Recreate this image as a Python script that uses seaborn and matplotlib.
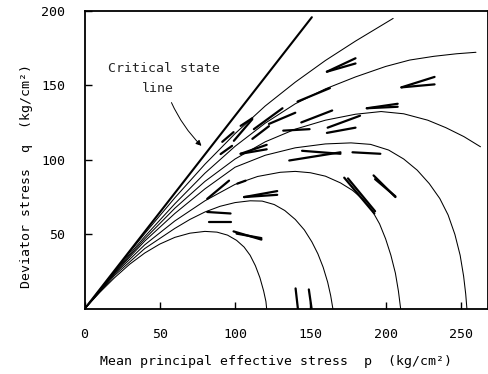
import matplotlib
matplotlib.use("Agg")
import matplotlib.pyplot as plt
import pandas as pd
import seaborn as sns

# ---- data (p, q in kg/cm2) ----
csl_p = [0, 151]
csl_q = [0, 195.5]

b_p = [0, 20, 40, 60, 80, 100, 120, 140, 160, 180, 205]
b_q = [0, 25.5, 50.5, 74.5, 97, 117.5, 136, 152, 166.5, 179.5, 194.7]

c_p = [0, 20, 40, 60, 80, 100, 120, 140, 160, 180, 200, 216, 232, 247, 260]
c_q = [0, 25, 48.5, 70.5, 91, 109, 124.5, 137.5, 147.5, 155.5, 162.5, 166.8, 169.3, 171, 172]

d_p = [0, 20, 40, 60, 80, 100, 120, 140, 160, 180, 197, 212, 228, 240, 252, 263]
d_q = [0, 24.5, 47, 67.5, 85.5, 100.5, 112, 120.5, 126.5, 130.5, 132.3, 130.8, 126.5, 121.5, 115.5, 108.7]

f_p = [0, 20, 40, 60, 80, 100, 120, 140, 160, 177, 190, 202, 212, 221, 229, 236,
       241.5, 246, 249.5, 251.8, 253.2, 254]
f_q = [0, 24, 45.5, 64, 80.5, 95, 103, 108, 110.6, 111.3, 110.3, 106.5, 100.5, 93, 84, 74,
       63, 50, 36, 22, 10, 0]

e_p = [0, 20, 40, 60, 80, 100, 115, 130, 140, 150, 160, 170, 178, 185, 191, 196,
       200, 203.5, 206.5, 208.5, 209.5, 210]
e_q = [0, 23.5, 43, 59, 72.5, 83.5, 88.8, 91.6, 92.2, 91.3, 89, 84.5, 79.5, 73.5, 66, 57,
       47, 36, 24, 12, 4, 0]

g_p = [0, 20, 40, 60, 70, 80, 90, 100, 110, 118, 126, 133, 140, 146, 151, 155,
       158.5, 161.5, 163.5, 165]
g_q = [0, 22.5, 40.5, 54, 60, 65, 68.8, 71.3, 72.5, 72.3, 70, 66, 60, 53, 45, 37,
       28, 18, 9, 0]

h_p = [0, 10, 20, 30, 40, 50, 60, 70, 80, 88, 95, 101, 106, 110, 113.5, 116.5,
       119, 120.5, 121]
h_q = [0, 11, 21, 30, 37.5, 43.5, 48, 50.8, 52, 51.5, 49.5, 46, 41.5, 36, 29, 21,
       12, 5, 0]

# short thick strokes (test data): start p, start q, end p, end q
stroke_p0 = [161, 161, 210.5, 210.5, 141.5, 187.5, 187.5, 112.5, 122.5, 111.5,
             144, 132, 161.5, 161, 103.7, 103.7, 103.7, 136, 144.5, 178,
             172.5, 175, 192, 193, 106, 106, 99, 101, 81.5, 82.5,
             81.5, 101.5, 140.2, 149, 90.4, 99.2, 91.5]
stroke_q0 = [159, 159, 148.5, 148.5, 139, 134.5, 134.5, 120.5, 124, 114,
             125, 119.5, 121.5, 118, 122.7, 104, 104, 99.5, 106, 105,
             88, 87.5, 89.5, 87, 75, 75, 52, 50.5, 65, 58.2,
             73.8, 84, 13.8, 13.1, 103.8, 112.7, 112]
stroke_p1 = [180, 180, 232.5, 232.5, 163, 208, 208, 131.5, 140, 122.5,
             164.5, 149.5, 183, 180, 111.4, 121, 121, 170, 170, 196.5,
             192.5, 193, 206.5, 206.5, 128, 128, 117.5, 117.5, 97, 97,
             96, 107, 141.7, 150.8, 98, 111.4, 99]
stroke_q1 = [168, 164.5, 155.5, 150.5, 148, 137.5, 135.5, 134.5, 131.5, 122.5,
             133, 120.5, 129.5, 121.5, 127.8, 110, 107, 105, 104, 104,
             64, 65.5, 75, 75.5, 79, 76.5, 46.5, 47.5, 64, 58.2,
             86, 86, 0.5, 0.5, 109.3, 127.1, 118.5]

x_ticks = [0, 50, 100, 150, 200, 250]
y_ticks = [50, 100, 150, 200]

# ---- drawing ----
sns.set_theme(style="ticks")
plt.rcParams["font.family"] = ["DejaVu Sans Mono"]

fig = plt.figure(figsize=(4.89, 3.74), dpi=100)
ax = fig.add_axes([84.5 / 489, 65 / 374, 403.5 / 489, 298.5 / 374])

curves = {"B": (b_p, b_q), "C": (c_p, c_q), "D": (d_p, d_q), "F": (f_p, f_q),
          "E": (e_p, e_q), "G": (g_p, g_q), "H": (h_p, h_q)}
rows = []
for name, (ps, qs) in curves.items():
    for p, q in zip(ps, qs):
        rows.append({"curve": name, "p": p, "q": q})
df = pd.DataFrame(rows)
sns.lineplot(data=df, x="p", y="q", units="curve", estimator=None, sort=False,
             color="black", lw=0.75, ax=ax, legend=False)

csl = pd.DataFrame({"p": csl_p, "q": csl_q})
sns.lineplot(data=csl, x="p", y="q", sort=False, color="black", lw=1.5, ax=ax)

srows = []
for i, (a, b, c, d) in enumerate(zip(stroke_p0, stroke_q0, stroke_p1, stroke_q1)):
    srows.append({"s": i, "p": a, "q": b})
    srows.append({"s": i, "p": c, "q": d})
sdf = pd.DataFrame(srows)
sns.lineplot(data=sdf, x="p", y="q", units="s", estimator=None, sort=False,
             color="black", lw=1.6, ax=ax, legend=False)

ax.set_xlim(0, 268)
ax.set_ylim(0, 200)
ax.set_xticks(x_ticks)
ax.set_yticks(y_ticks)
ax.tick_params(direction="in", length=5, width=1, pad=14, labelsize=9.5,
               colors="black")
for s in ax.spines.values():
    s.set_linewidth(1.3)
    s.set_color("black")

ax.set_xlabel("Mean principal effective stress  p  (kg/cm²)", fontsize=9.5,
              labelpad=10, color="black")
ax.set_ylabel("Deviator stress  q  (kg/cm²)", fontsize=9.5, labelpad=6,
              color="black")
ax.xaxis.label.set_x(0.475)
ax.yaxis.label.set_y(0.445)

ax.text(52.5, 161, "Critical state", ha="center", va="center", fontsize=9.5)
ax.text(49, 148, "line", ha="center", va="center", fontsize=9.5)
ax.annotate("", xy=(79, 108), xytext=(57, 140),
            arrowprops=dict(arrowstyle="-|>", lw=0.7, color="black",
                            mutation_scale=8,
                            connectionstyle="arc3,rad=0.1"))

fig.savefig("out.png", dpi=100)
